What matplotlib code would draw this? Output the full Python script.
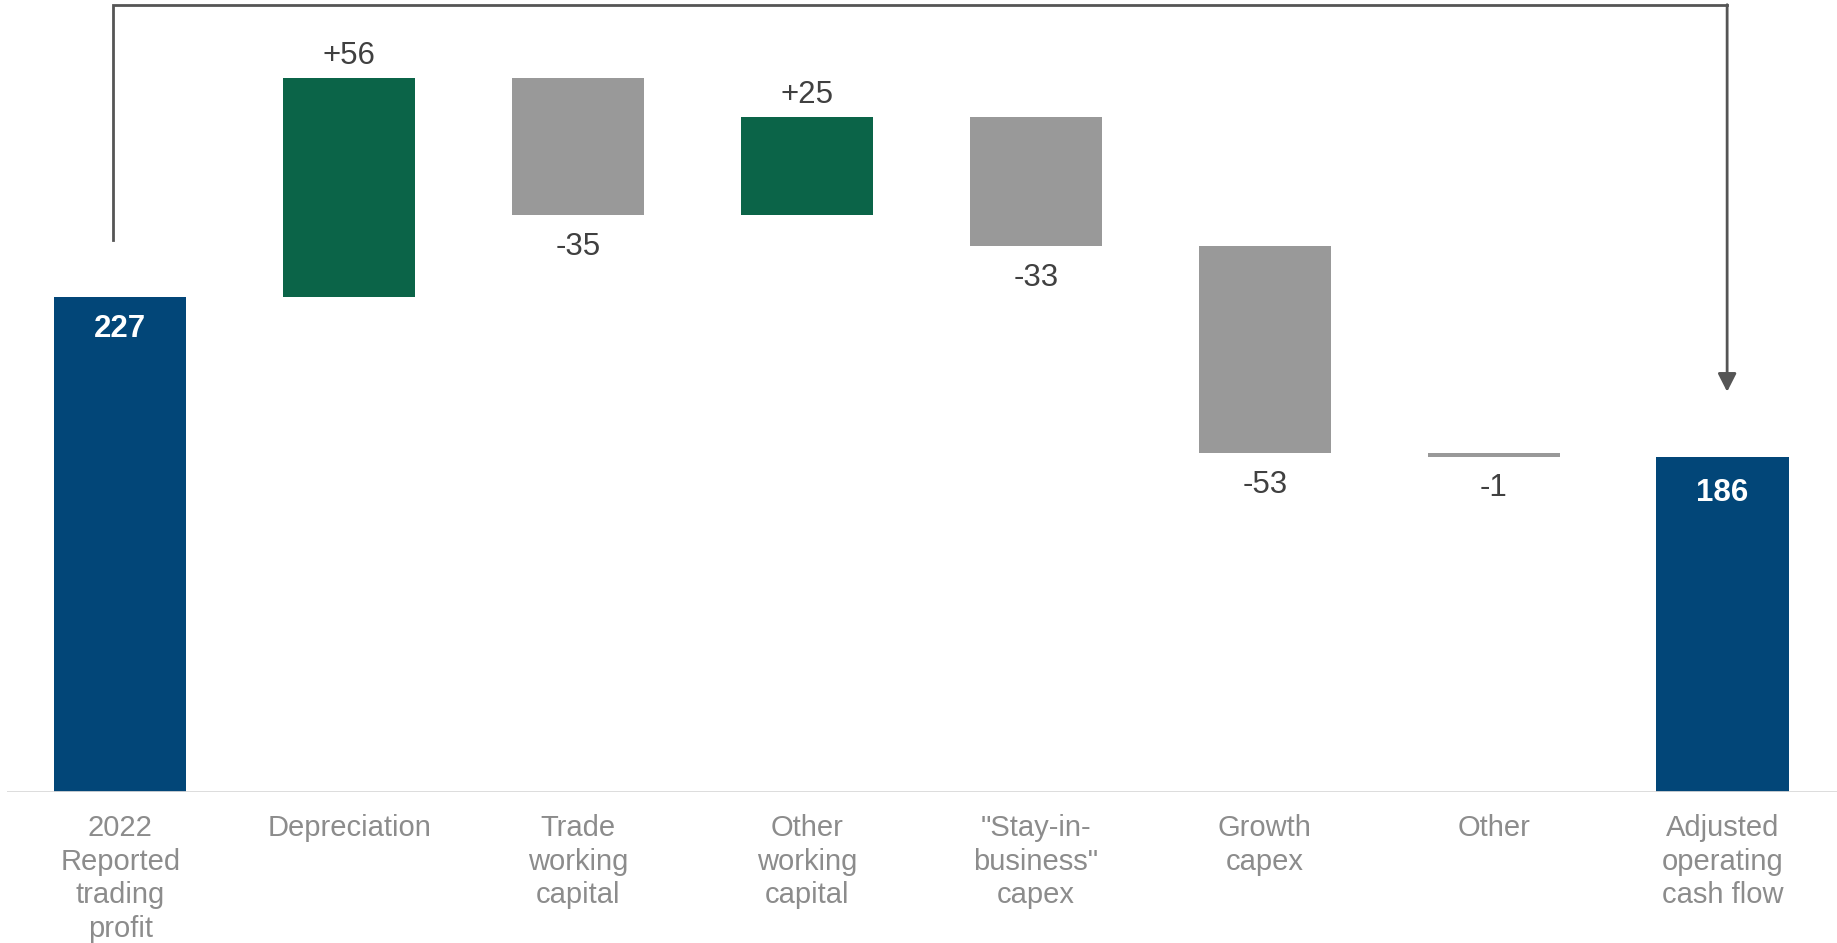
import matplotlib
matplotlib.use("Agg")
import matplotlib.pyplot as plt
import numpy as np

# waterfall: 2022 trading profit -> adjusted operating cash flow
categories = ["2022\nReported\ntrading\nprofit", "Depreciation", "Trade\nworking\ncapital",
              "Other\nworking\ncapital", "\"Stay-in-\nbusiness\"\ncapex", "Growth\ncapex",
              "Other", "Adjusted\noperating\ncash flow"]
start_value = 227
deltas = [56, -35, 25, -33, -53, -1]
end_value = 186

BLUE = "#024678"
GREEN = "#0b6448"
GREY = "#999999"
TXT = "#404040"
CAT = "#8c8c8c"

plt.rcParams['font.family'] = ['Liberation Sans', 'DejaVu Sans']

fig = plt.figure(figsize=(18.37, 9.43), dpi=100)
ax = fig.add_axes([0.0038, 0.160, 0.9962, 0.840])

axis_floor = 100
x = np.arange(len(categories))
width = 0.578

# totals
ax.bar(x[0], start_value - axis_floor, width, bottom=axis_floor, color=BLUE)
ax.bar(x[-1], end_value - axis_floor, width, bottom=axis_floor, color=BLUE)
ax.annotate(str(start_value), (x[0], start_value), xytext=(0, -23), textcoords="offset points",
            ha="center", va="center", color="white", fontsize=22.5, fontweight="bold")
ax.annotate(str(end_value), (x[-1], end_value), xytext=(0, -26), textcoords="offset points",
            ha="center", va="center", color="white", fontsize=22.5, fontweight="bold")

# steps
running = start_value
for i, d in enumerate(deltas):
    xi = x[i + 1]
    lo = min(running, running + d)
    ax.bar(xi, abs(d), width, bottom=lo, color=GREEN if d > 0 else GREY)
    if d > 0:
        ax.annotate("+%d" % d, (xi, running + d), xytext=(0, 16), textcoords="offset points",
                    ha="center", va="center", color=TXT, fontsize=22.5)
    else:
        ax.annotate("%d" % d, (xi, running + d), xytext=(0, -23), textcoords="offset points",
                    ha="center", va="center", color=TXT, fontsize=22.5)
    running += d

# bracket arrow from start to end
x0 = x[0] - 0.031
x1 = x[-1] + 0.02
ytop = 301.8
ax.plot([x0, x0, x1], [start_value + 14.6, ytop, ytop], color="#555555", lw=2,
        solid_joinstyle="miter", clip_on=False)
ax.annotate("", xy=(x1, end_value + 16.6), xytext=(x1, ytop),
            arrowprops=dict(arrowstyle="-|>,head_length=0.55,head_width=0.28", color="#555555",
                            lw=2, mutation_scale=20, shrinkA=0, shrinkB=0))

ax.axhline(axis_floor, color="#d9d9d9", lw=2)
ax.set_xlim(-0.495, 7.5)
ax.set_ylim(axis_floor, 303)
ax.set_xticks(x)
ax.set_xticklabels(categories, color=CAT, fontsize=21, linespacing=1.25)
ax.tick_params(axis="x", length=0, pad=16)
ax.set_yticks([])
for s in ax.spines.values():
    s.set_visible(False)

fig.savefig("out.png", dpi=100)
